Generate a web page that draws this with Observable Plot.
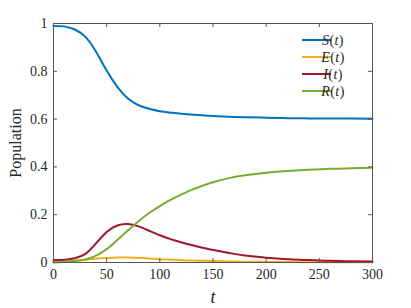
<!DOCTYPE html>
<html>
<head>
<meta charset="utf-8">
<script src="https://cdn.jsdelivr.net/npm/d3@7"></script>
<script src="https://cdn.jsdelivr.net/npm/@observablehq/plot@0.6"></script>
<style>
  html, body { margin: 0; padding: 0; background: #fff; }
  #chart { width: 411px; height: 308px; }
</style>
</head>
<body>
<div id="chart"></div>
<script>
// ---- data ----
const t  = [0, 10, 20, 30, 40, 50, 60, 70, 80, 90, 100, 110, 120, 130, 140, 150, 165, 180, 200, 220, 240, 260, 280, 300];
const S  = [0.99, 0.988, 0.975, 0.944, 0.882, 0.803, 0.735, 0.686, 0.658, 0.643, 0.633, 0.627, 0.622, 0.619, 0.616, 0.613, 0.610, 0.608, 0.606, 0.604, 0.603, 0.6025, 0.602, 0.6015];
const E  = [0.002, 0.004, 0.008, 0.012, 0.016, 0.019, 0.021, 0.021, 0.019, 0.017, 0.014, 0.012, 0.010, 0.008, 0.007, 0.006, 0.0045, 0.0035, 0.0025, 0.0018, 0.0013, 0.001, 0.0008, 0.0006];
const I  = [0.01, 0.011, 0.018, 0.036, 0.08, 0.128, 0.155, 0.161, 0.151, 0.133, 0.114, 0.098, 0.085, 0.073, 0.062, 0.052, 0.04, 0.029, 0.02, 0.014, 0.01, 0.007, 0.005, 0.004];
const R  = [0.0, 0.002, 0.006, 0.013, 0.029, 0.056, 0.094, 0.134, 0.173, 0.207, 0.236, 0.262, 0.284, 0.304, 0.321, 0.336, 0.353, 0.365, 0.376, 0.383, 0.388, 0.392, 0.394, 0.396];

const seriesKeys   = ["S", "E", "I", "R"];
const seriesValues = [S, E, I, R];
const seriesColors = ["#0072BD", "#EDB120", "#A2142F", "#77AC30"];

const xTicks = [0, 50, 100, 150, 200, 250, 300];
const yTicks = [0, 0.2, 0.4, 0.6, 0.8, 1];
const xLabel = "t";
const yLabel = "Population";

// ---- build table ----
const rows = [];
seriesKeys.forEach((k, si) => {
  t.forEach((tv, i) => rows.push({t: tv, v: seriesValues[si][i], series: k}));
});

const W = 411, H = 308, mL = 53, mR = 39, mT = 23, mB = 46;
const pw = W - mL - mR, ph = H - mT - mB;
const tickLen = 4;
const axisColor = "#555";
const textColor = "#262626";
const FONT = "Liberation Serif, DejaVu Serif, serif";

const svg = Plot.plot({
  width: W, height: H,
  marginLeft: mL, marginRight: mR, marginTop: mT, marginBottom: mB,
  style: {fontSize: "14px", background: "#fff", color: textColor},
  x: {domain: [0, 300]},
  y: {domain: [0, 1]},
  color: {domain: seriesKeys, range: seriesColors},
  marks: [
    Plot.line(rows, {x: "t", y: "v", z: "series", stroke: "series", curve: "natural", strokeWidth: 2}),
    Plot.frame({stroke: axisColor, strokeWidth: 1}),
    Plot.tickX(xTicks, {x: d => d, insetTop: ph - tickLen, stroke: axisColor}),
    Plot.tickX(xTicks, {x: d => d, insetBottom: ph - tickLen, stroke: axisColor}),
    Plot.tickY(yTicks, {y: d => d, insetRight: pw - tickLen, stroke: axisColor}),
    Plot.tickY(yTicks, {y: d => d, insetLeft: pw - tickLen, stroke: axisColor}),
    Plot.axisX(xTicks, {tickSize: 0, tickPadding: 7, tickFormat: d => String(d), label: null, fill: textColor, fontFamily: FONT, fontSize: 14}),
    Plot.axisY(yTicks, {tickSize: 0, tickPadding: 6, tickFormat: d => String(d), label: null, fill: textColor, fontFamily: FONT, fontSize: 14}),
    Plot.text([yLabel], {text: d => d, frameAnchor: "left", rotate: -90, dx: -38, textAnchor: "middle", lineAnchor: "middle", fontSize: 16, fill: textColor, fontFamily: FONT}),
    Plot.text([xLabel], {text: d => d, frameAnchor: "bottom", dy: 35, textAnchor: "middle", lineAnchor: "middle", fontSize: 18, fontStyle: "italic", fill: textColor, fontFamily: FONT})
  ]
});
svg.setAttribute("font-family", FONT);

// ---- legend inside the axes (top-right) ----
const lg = d3.select(svg).append("g").attr("font-size", 14).attr("font-family", FONT);
seriesKeys.forEach((k, i) => {
  const y = 40 + i * 17;
  lg.append("line").attr("x1", 302).attr("x2", 331).attr("y1", y).attr("y2", y)
    .attr("stroke", seriesColors[i]).attr("stroke-width", 2);
  const txt = lg.append("text").attr("x", 333).attr("y", y).attr("dy", "0.35em")
    .attr("fill", textColor).attr("letter-spacing", "0.4px");
  txt.append("tspan").attr("font-style", "italic").text(k);
  txt.append("tspan").text("(");
  txt.append("tspan").attr("font-style", "italic").text("t");
  txt.append("tspan").text(")");
});

document.getElementById("chart").appendChild(svg);
</script>
</body>
</html>
